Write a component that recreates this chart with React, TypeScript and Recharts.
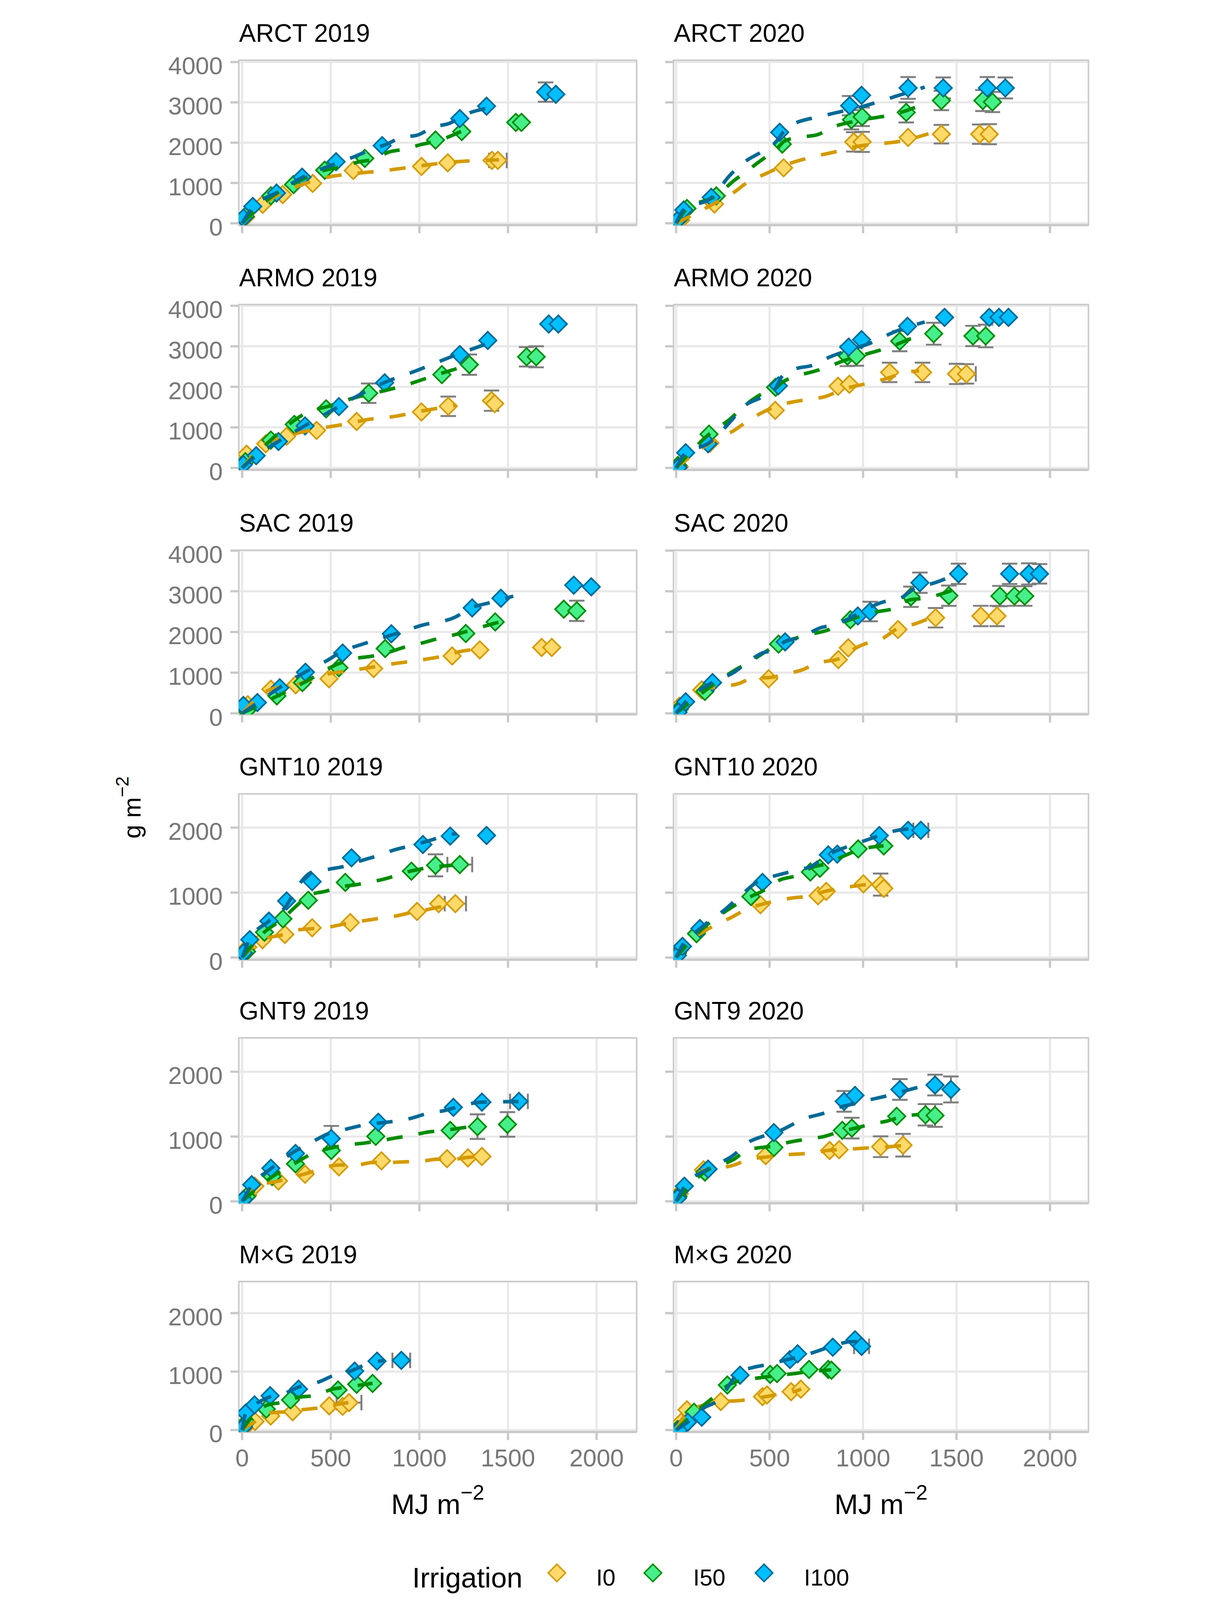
import React from 'react';
import { ScatterChart, Scatter, XAxis, YAxis, CartesianGrid, ErrorBar, ReferenceArea } from 'recharts';

// [x, y, y-error, x-error]
type P = [number, number, number?, number?];

const IRRIGATION = ['I0', 'I50', 'I100'];
const X_TICKS = [0, 500, 1000, 1500, 2000];
const Y_TICKS_TALL = [0, 1000, 2000, 3000, 4000];
const Y_TICKS_SHORT = [0, 1000, 2000];

// ---- ARCT ----
const ARCT19_I0: P[] = [[20, 150], [116, 470], [229, 712], [398, 988], [627, 1310], [1012, 1410], [1160, 1500], [1410, 1560], [1443, 1560, 0, 50]];
const ARCT19_I50: P[] = [[18, 170], [162, 680], [290, 960], [466, 1316], [692, 1610], [1091, 2065], [1239, 2275], [1544, 2503], [1576, 2503]];
const ARCT19_I100: P[] = [[7, 130], [60, 418], [194, 750], [338, 1143], [530, 1527], [790, 1928], [1228, 2598], [1379, 2906], [1712, 3255, 240], [1770, 3200]];
const ARCT19_I0_FIT: P[] = [[0, 0], [120, 470], [320, 930], [490, 1150], [625, 1228], [800, 1305], [990, 1415], [1160, 1510], [1350, 1560], [1450, 1575]];
const ARCT19_I50_FIT: P[] = [[0, 0], [160, 640], [300, 1000], [465, 1314], [560, 1400], [650, 1514], [740, 1590], [830, 1770], [925, 1843], [1010, 1954], [1100, 2042], [1240, 2290]];
const ARCT19_I100_FIT: P[] = [[0, 0], [60, 400], [195, 760], [340, 1140], [538, 1496], [627, 1642], [717, 1810], [810, 1954], [900, 2129], [991, 2190], [1078, 2386], [1171, 2482], [1250, 2680], [1389, 2860]];

const ARCT20_I0: P[] = [[24, 73], [205, 477], [575, 1375], [950, 2019, 240], [995, 2019, 250], [1241, 2129], [1419, 2210, 230], [1624, 2210, 240], [1675, 2210, 250]];
const ARCT20_I50: P[] = [[17, 110], [58, 367], [215, 679], [568, 1963], [938, 2569, 240], [995, 2642, 230], [1231, 2752, 250], [1419, 3046, 240], [1641, 3046, 260], [1692, 3009, 250]];
const ARCT20_I100: P[] = [[7, 73], [41, 330], [188, 642], [554, 2257], [928, 2918, 240], [992, 3175], [1241, 3358, 270], [1429, 3358, 260], [1665, 3358, 270], [1761, 3358, 260]];
const ARCT20_I0_FIT: P[] = [[0, 0], [200, 480], [310, 770], [380, 1010], [480, 1230], [560, 1400], [750, 1670], [840, 1760], [960, 1900], [1100, 1980], [1180, 2020], [1350, 2220]];
const ARCT20_I50_FIT: P[] = [[0, 0], [60, 370], [215, 680], [310, 1060], [380, 1300], [460, 1580], [530, 1800], [580, 2040], [650, 2130], [750, 2190], [840, 2390], [990, 2560], [1180, 2720], [1350, 3010]];
const ARCT20_I100_FIT: P[] = [[0, 0], [40, 330], [190, 640], [290, 1200], [360, 1500], [460, 1780], [530, 2000], [600, 2400], [800, 2680], [1000, 2900], [1140, 3100], [1330, 3380]];

// ---- ARMO ----
const ARMO19_I0: P[] = [[25, 338], [133, 595], [251, 778], [420, 925], [646, 1145], [1012, 1380], [1163, 1520, 240], [1407, 1659, 250], [1425, 1585]];
const ARMO19_I50: P[] = [[18, 154], [162, 686], [294, 1072], [474, 1457], [714, 1842, 240], [1127, 2301], [1282, 2547, 250], [1605, 2741, 240], [1659, 2741, 260]];
const ARMO19_I100: P[] = [[7, 81], [79, 301], [205, 650], [355, 1035], [546, 1512], [804, 2099], [1228, 2797], [1386, 3145], [1730, 3549], [1784, 3549]];
const ARMO19_I0_FIT: P[] = [[0, 0], [130, 590], [250, 780], [420, 960], [500, 1020], [620, 1110], [690, 1180], [860, 1270], [1010, 1400], [1210, 1550]];
const ARMO19_I50_FIT: P[] = [[0, 0], [160, 680], [310, 1220], [380, 1400], [470, 1500], [650, 1750], [740, 1840], [920, 2040], [1100, 2300], [1280, 2540]];
const ARMO19_I100_FIT: P[] = [[0, 0], [80, 300], [200, 640], [350, 1030], [540, 1500], [640, 1750], [800, 2100], [990, 2410], [1190, 2760], [1380, 3060]];

const ARMO20_I0: P[] = [[17, 26], [181, 613], [530, 1420], [866, 2014], [927, 2063], [1142, 2356, 240], [1318, 2356, 240], [1500, 2319, 250], [1553, 2319, 240, 50]];
const ARMO20_I50: P[] = [[10, 62], [176, 833], [532, 1989], [916, 2760, 250], [964, 2760, 240], [1196, 3127, 250], [1378, 3310, 270], [1588, 3255, 250], [1656, 3255, 280]];
const ARMO20_I100: P[] = [[10, 7], [51, 374], [171, 595], [547, 2026], [923, 2980], [992, 3164], [1238, 3494], [1436, 3714], [1675, 3714], [1727, 3714], [1778, 3714]];
const ARMO20_I0_FIT: P[] = [[0, 0], [180, 610], [310, 925], [380, 1145], [460, 1365], [530, 1510], [720, 1700], [790, 1750], [900, 1950], [1060, 2120], [1130, 2210], [1230, 2360], [1300, 2390]];
const ARMO20_I50_FIT: P[] = [[0, 0], [176, 830], [290, 1210], [360, 1510], [460, 1830], [530, 1950], [565, 2100], [630, 2250], [720, 2360], [800, 2470], [900, 2650], [1080, 2890], [1145, 2980], [1250, 3180], [1320, 3270]];
const ARMO20_I100_FIT: P[] = [[0, 0], [51, 370], [171, 600], [290, 1140], [360, 1510], [460, 1750], [530, 1950], [565, 2250], [630, 2430], [735, 2540], [800, 2690], [1080, 3160], [1145, 3310], [1250, 3490], [1330, 3600]];

// ---- SAC ----
const SAC19_I0: P[] = [[32, 211], [162, 593], [302, 702], [490, 850], [742, 1100], [1185, 1410], [1341, 1560], [1690, 1620], [1747, 1620]];
const SAC19_I50: P[] = [[25, 65], [196, 429], [340, 756], [546, 1120], [807, 1593], [1262, 1963], [1428, 2247], [1815, 2560], [1888, 2520, 250]];
const SAC19_I100: P[] = [[7, 193], [86, 265], [212, 629], [357, 1011], [567, 1483], [842, 1956], [1298, 2592], [1460, 2829], [1871, 3150], [1970, 3110]];
const SAC19_I0_FIT: P[] = [[0, 0], [160, 590], [300, 700], [510, 990], [580, 1030], [740, 1140], [870, 1230], [960, 1280], [1050, 1340], [1140, 1410], [1230, 1520], [1310, 1570]];
const SAC19_I50_FIT: P[] = [[0, 0], [200, 430], [350, 760], [550, 1230], [630, 1340], [740, 1410], [810, 1480], [920, 1630], [990, 1700], [1100, 1830], [1170, 1900], [1280, 2030], [1350, 2120], [1480, 2280]];
const SAC19_I100_FIT: P[] = [[0, 0], [90, 270], [210, 630], [350, 1000], [480, 1300], [580, 1560], [650, 1660], [940, 2060], [1010, 2160], [1200, 2360], [1300, 2610], [1380, 2700], [1530, 2880]];

const SAC20_I0: P[] = [[17, 175], [137, 575], [495, 850], [868, 1320], [921, 1610], [1187, 2060], [1388, 2350, 240], [1630, 2393, 250], [1717, 2393, 250]];
const SAC20_I50: P[] = [[17, 102], [154, 538], [548, 1702], [932, 2302], [1256, 2865, 250], [1459, 2892, 250], [1732, 2883, 250], [1810, 2883, 240], [1865, 2883, 240]];
const SAC20_I100: P[] = [[10, 29], [51, 284], [195, 756], [583, 1756], [972, 2393], [1038, 2502, 240], [1304, 3211, 250], [1511, 3429, 250], [1784, 3429, 250], [1887, 3429, 260], [1944, 3429, 240]];
const SAC20_I0_FIT: P[] = [[0, 0], [140, 570], [340, 740], [410, 865], [500, 880], [580, 960], [680, 1080], [750, 1230], [870, 1340], [920, 1500], [1030, 1740], [1090, 1810], [1200, 2120], [1270, 2190], [1380, 2390]];
const SAC20_I50_FIT: P[] = [[0, 0], [150, 540], [310, 1050], [380, 1230], [550, 1700], [735, 1960], [800, 2030], [930, 2300], [1080, 2500], [1160, 2570], [1250, 2790], [1330, 2830], [1480, 3030]];
const SAC20_I100_FIT: P[] = [[0, 0], [50, 280], [190, 750], [310, 1010], [380, 1250], [460, 1480], [530, 1560], [580, 1760], [670, 1870], [770, 2100], [840, 2170], [1110, 2740], [1200, 2830], [1280, 3080], [1370, 3190], [1500, 3420]];

// ---- GNT10 ----
const GNT10_19_I0: P[] = [[32, 160], [115, 275], [241, 355], [395, 458], [610, 538], [987, 710], [1109, 830], [1203, 830, 0, 60]];
const GNT10_19_I50: P[] = [[25, 92], [126, 389], [230, 596], [373, 882], [582, 1157], [955, 1329], [1091, 1420, 170], [1228, 1432, 0, 70]];
const GNT10_19_I100: P[] = [[7, 69], [43, 275], [151, 561], [251, 871], [395, 1168], [617, 1535], [1020, 1740], [1174, 1870], [1379, 1880]];
const GNT10_19_I0_FIT: P[] = [[0, 0], [110, 270], [240, 360], [300, 420], [420, 450], [490, 470], [600, 530], [670, 560], [770, 600], [850, 630], [950, 690], [1030, 730], [1210, 840]];
const GNT10_19_I50_FIT: P[] = [[0, 0], [125, 390], [230, 600], [300, 780], [380, 960], [470, 1020], [560, 1090], [640, 1120], [740, 1170], [830, 1230], [920, 1310], [1000, 1360], [1100, 1400], [1190, 1420]];
const GNT10_19_I100_FIT: P[] = [[0, 0], [40, 270], [150, 560], [250, 800], [310, 1080], [390, 1310], [490, 1360], [600, 1420], [670, 1490], [780, 1580], [850, 1650], [950, 1720], [1030, 1780], [1130, 1860], [1210, 1910]];

const GNT10_20_I0: P[] = [[17, 115], [451, 813], [759, 951], [803, 1019], [1002, 1134], [1094, 1123, 170], [1111, 1065]];
const GNT10_20_I50: P[] = [[7, 69], [109, 367], [400, 939], [718, 1317], [769, 1375], [974, 1672], [1111, 1718]];
const GNT10_20_I100: P[] = [[7, 34], [34, 172], [127, 447], [462, 1157], [814, 1581], [862, 1592], [1087, 1879], [1241, 1959], [1309, 1959, 0, 40]];
const GNT10_20_I0_FIT: P[] = [[0, 0], [20, 110], [160, 420], [310, 640], [380, 750], [460, 820], [530, 870], [630, 920], [700, 940], [800, 1020], [980, 1110], [1040, 1130]];
const GNT10_20_I50_FIT: P[] = [[0, 0], [110, 360], [290, 760], [400, 940], [460, 1020], [560, 1200], [630, 1250], [740, 1400], [800, 1440], [910, 1580], [970, 1650], [1110, 1720]];
const GNT10_20_I100_FIT: P[] = [[0, 0], [30, 170], [130, 450], [270, 760], [340, 940], [460, 1210], [530, 1260], [650, 1350], [720, 1400], [800, 1560], [970, 1760], [1040, 1830], [1170, 1950], [1250, 1980], [1300, 1975]];

// ---- GNT9 ----
const GNT9_19_I0: P[] = [[32, 96], [72, 234], [205, 315], [355, 418], [546, 533], [786, 625], [1156, 659], [1274, 670], [1353, 693]];
const GNT9_19_I50: P[] = [[25, 73], [169, 383], [301, 579], [503, 785], [754, 1003], [1174, 1095], [1328, 1153, 190], [1497, 1187, 190]];
const GNT9_19_I100: P[] = [[7, 28], [54, 257], [162, 510], [301, 739], [503, 969, 195], [768, 1221], [1192, 1451], [1353, 1531], [1562, 1543, 0, 50]];
const GNT9_19_I0_FIT: P[] = [[0, 0], [70, 230], [200, 310], [350, 420], [550, 560], [640, 560], [740, 600], [830, 600], [920, 610], [1000, 615], [1100, 650], [1190, 650], [1280, 680], [1390, 690]];
const GNT9_19_I50_FIT: P[] = [[0, 0], [170, 380], [300, 590], [390, 730], [510, 830], [590, 870], [690, 900], [780, 935], [870, 980], [950, 1015], [1050, 1070], [1140, 1095], [1230, 1130], [1320, 1165]];
const GNT9_19_I100_FIT: P[] = [[0, 0], [55, 250], [160, 500], [290, 760], [390, 910], [500, 1060], [580, 1110], [690, 1180], [780, 1210], [870, 1240], [950, 1280], [1050, 1360], [1140, 1400], [1230, 1470], [1350, 1530], [1560, 1540]];

const GNT9_20_I0: P[] = [[17, 119], [147, 487], [479, 705], [821, 785], [872, 797], [1094, 843, 160], [1214, 866, 175]];
const GNT9_20_I50: P[] = [[10, 73], [154, 452], [523, 831], [889, 1095], [940, 1130, 160], [1180, 1313], [1334, 1336, 165], [1385, 1325, 175]];
const GNT9_20_I100: P[] = [[7, 50], [44, 234], [171, 498], [523, 1061], [899, 1543, 160], [957, 1635], [1197, 1727, 160], [1385, 1795, 160], [1470, 1727, 200]];
const GNT9_20_I0_FIT: P[] = [[0, 0], [150, 480], [310, 560], [380, 640], [500, 690], [560, 715], [650, 730], [740, 750], [820, 790], [900, 800], [1000, 820], [1080, 830], [1210, 860]];
const GNT9_20_I50_FIT: P[] = [[0, 0], [150, 450], [310, 650], [380, 790], [530, 860], [600, 910], [700, 960], [790, 1000], [880, 1080], [960, 1130], [1040, 1190], [1130, 1240], [1210, 1310], [1300, 1340]];
const GNT9_20_I100_FIT: P[] = [[0, 0], [45, 230], [170, 500], [310, 720], [380, 900], [460, 1000], [530, 1060], [700, 1290], [790, 1360], [870, 1450], [960, 1510], [1040, 1570], [1130, 1630], [1230, 1710], [1320, 1780]];

// ---- M×G ----
const MXG19_I0: P[] = [[20, 60], [73, 147], [161, 240], [285, 313], [491, 414], [567, 406], [603, 469, 0, 70]];
const MXG19_I50: P[] = [[25, 135], [136, 358], [273, 515], [541, 685], [646, 783], [736, 797]];
const MXG19_I100: P[] = [[7, 51], [20, 290], [70, 430], [158, 588], [318, 700], [635, 1008], [761, 1178], [898, 1192, 0, 50]];
const MXG19_I0_FIT: P[] = [[0, 0], [70, 140], [161, 296], [249, 313], [342, 350], [433, 378], [520, 430], [600, 470]];
const MXG19_I50_FIT: P[] = [[0, 0], [30, 130], [136, 420], [231, 477], [318, 560], [411, 590], [510, 700], [580, 730], [736, 800]];
const MXG19_I100_FIT: P[] = [[0, 0], [20, 290], [70, 430], [150, 560], [240, 630], [350, 770], [420, 810], [530, 950], [600, 995], [710, 1135], [800, 1190]];

const MXG20_I0: P[] = [[27, 135], [58, 346], [239, 487], [462, 572], [486, 600], [615, 656], [667, 699]];
const MXG20_I50: P[] = [[7, 8], [96, 304], [274, 769], [503, 952], [540, 966], [711, 1037], [814, 1037], [831, 1023]];
const MXG20_I100: P[] = [[17, 8], [62, 135], [137, 220], [342, 938], [609, 1206], [650, 1304], [838, 1417], [957, 1544], [992, 1431, 0, 40]];
const MXG20_I0_FIT: P[] = [[0, 0], [60, 300], [150, 430], [240, 490], [325, 500], [460, 560], [560, 620], [620, 650], [670, 700]];
const MXG20_I50_FIT: P[] = [[0, 0], [100, 300], [200, 560], [280, 770], [300, 800], [460, 900], [520, 925], [630, 965], [700, 995], [830, 1030]];
const MXG20_I100_FIT: P[] = [[0, 0], [60, 130], [150, 380], [222, 500], [342, 1000], [410, 1070], [513, 1135], [564, 1180], [684, 1276], [752, 1346], [872, 1473], [940, 1515], [1000, 1500]];

const PANELS = [
  { title: 'ARCT 2019', row: 0, col: 0, pts: [ARCT19_I0, ARCT19_I50, ARCT19_I100], fits: [ARCT19_I0_FIT, ARCT19_I50_FIT, ARCT19_I100_FIT] },
  { title: 'ARCT 2020', row: 0, col: 1, pts: [ARCT20_I0, ARCT20_I50, ARCT20_I100], fits: [ARCT20_I0_FIT, ARCT20_I50_FIT, ARCT20_I100_FIT] },
  { title: 'ARMO 2019', row: 1, col: 0, pts: [ARMO19_I0, ARMO19_I50, ARMO19_I100], fits: [ARMO19_I0_FIT, ARMO19_I50_FIT, ARMO19_I100_FIT] },
  { title: 'ARMO 2020', row: 1, col: 1, pts: [ARMO20_I0, ARMO20_I50, ARMO20_I100], fits: [ARMO20_I0_FIT, ARMO20_I50_FIT, ARMO20_I100_FIT] },
  { title: 'SAC 2019', row: 2, col: 0, pts: [SAC19_I0, SAC19_I50, SAC19_I100], fits: [SAC19_I0_FIT, SAC19_I50_FIT, SAC19_I100_FIT] },
  { title: 'SAC 2020', row: 2, col: 1, pts: [SAC20_I0, SAC20_I50, SAC20_I100], fits: [SAC20_I0_FIT, SAC20_I50_FIT, SAC20_I100_FIT] },
  { title: 'GNT10 2019', row: 3, col: 0, pts: [GNT10_19_I0, GNT10_19_I50, GNT10_19_I100], fits: [GNT10_19_I0_FIT, GNT10_19_I50_FIT, GNT10_19_I100_FIT] },
  { title: 'GNT10 2020', row: 3, col: 1, pts: [GNT10_20_I0, GNT10_20_I50, GNT10_20_I100], fits: [GNT10_20_I0_FIT, GNT10_20_I50_FIT, GNT10_20_I100_FIT] },
  { title: 'GNT9 2019', row: 4, col: 0, pts: [GNT9_19_I0, GNT9_19_I50, GNT9_19_I100], fits: [GNT9_19_I0_FIT, GNT9_19_I50_FIT, GNT9_19_I100_FIT] },
  { title: 'GNT9 2020', row: 4, col: 1, pts: [GNT9_20_I0, GNT9_20_I50, GNT9_20_I100], fits: [GNT9_20_I0_FIT, GNT9_20_I50_FIT, GNT9_20_I100_FIT] },
  { title: 'M×G 2019', row: 5, col: 0, pts: [MXG19_I0, MXG19_I50, MXG19_I100], fits: [MXG19_I0_FIT, MXG19_I50_FIT, MXG19_I100_FIT] },
  { title: 'M×G 2020', row: 5, col: 1, pts: [MXG20_I0, MXG20_I50, MXG20_I100], fits: [MXG20_I0_FIT, MXG20_I50_FIT, MXG20_I100_FIT] },
];

// ---- styling / layout ----
const FONT = '"Liberation Sans", Arial, Helvetica, sans-serif';
const FILLS = ['#FFDA6A', '#47EF8B', '#00BFFF'];
const STROKES = ['#D49A00', '#008C00', '#006A96'];
const BORDER = '#C8C8C8';
const GRID = '#E8E8E8';
const TICK_TEXT = '#777777';
const ERR = '#7F7F7F';
const PAD_TOP = 60;
const PAD_RIGHT = 12;

// the figure is laid out at 3104x4964; the browser viewport is only 4096 tall,
// so the whole figure is scaled down uniformly to fit and centred
const FIG_W = 3104;
const FIG_H = 4964;
const VIEW_H = 4096;
const FIT = VIEW_H / FIG_H;

const COLS = [
  { plotLeft: 412.7, plotRight: 1647.6, xDomain: [-19, 2226], axisW: 412.7 },
  { plotLeft: 1762, plotRight: 3050, xDomain: [-14, 2206], axisW: 60 },
];
const ROWS = [
  { top: 186.7, bottom: 698.3, yDomain: [-48, 4045], ticks: Y_TICKS_TALL },
  { top: 944.9, bottom: 1457.6, yDomain: [-48, 4029], ticks: Y_TICKS_TALL },
  { top: 1706.7, bottom: 2216, yDomain: [-25, 4010], ticks: Y_TICKS_TALL },
  { top: 2463, bottom: 2977.6, yDomain: [-34, 2520], ticks: Y_TICKS_SHORT },
  { top: 3219.8, bottom: 3733, yDomain: [-30, 2523], ticks: Y_TICKS_SHORT },
  { top: 3976, bottom: 4442.7, yDomain: [-33, 2540], ticks: Y_TICKS_SHORT },
];

const toRows = (arr: P[]) => arr.map(([x, y]) => ({ x, y }));
const withYErr = (arr: P[]) => arr.filter((p) => (p[2] || 0) > 0).map(([x, y, e]) => ({ x, y, e }));
const withXErr = (arr: P[]) => arr.filter((p) => (p[3] || 0) > 0).map(([x, y, , e]) => ({ x, y, e }));

const Empty = () => <g />;

const diamond = (i: number) => (props: any) => {
  const { cx, cy } = props;
  if (cx == null || cy == null) return <g />;
  const r = 27;
  return (
    <path
      d={`M${cx},${cy - r}L${cx + r},${cy}L${cx},${cy + r}L${cx - r},${cy}Z`}
      fill={FILLS[i]}
      stroke={STROKES[i]}
      strokeWidth={5}
    />
  );
};

const YLabel = (props: any) => {
  const { x, y, payload } = props;
  return (
    <text x={x} y={y + 38} textAnchor="end" fontSize={76} fill={TICK_TEXT} fontFamily={FONT}>
      {payload.value}
    </text>
  );
};

const XLabel = (props: any) => {
  const { x, y, payload } = props;
  return (
    <text x={x} y={y + 82} textAnchor="middle" fontSize={76} fill={TICK_TEXT} fontFamily={FONT}>
      {payload.value}
    </text>
  );
};

function Panel({ p }: { p: (typeof PANELS)[number] }) {
  const col = COLS[p.col];
  const row = ROWS[p.row];
  const bottomRow = p.row === ROWS.length - 1;
  const plotW = col.plotRight - col.plotLeft;
  const plotH = row.bottom - row.top;
  const xAxisH = bottomRow ? 150 : 64;
  const width = col.axisW + plotW + PAD_RIGHT;
  const height = PAD_TOP + plotH + xAxisH;

  return (
    <div style={{ position: 'absolute', left: col.plotLeft - col.axisW, top: row.top - PAD_TOP }}>
      <ScatterChart width={width} height={height} margin={{ top: PAD_TOP, right: PAD_RIGHT, bottom: 0, left: 0 }}>
        <CartesianGrid stroke={GRID} strokeWidth={6.5} />
        <XAxis
          type="number"
          dataKey="x"
          domain={col.xDomain}
          ticks={X_TICKS}
          interval={0}
          allowDataOverflow
          height={xAxisH}
          tickSize={25}
          tickMargin={0}
          axisLine={{ stroke: BORDER, strokeWidth: 7 }}
          tickLine={{ stroke: BORDER, strokeWidth: 7 }}
          tick={bottomRow ? XLabel : Empty}
        />
        <YAxis
          type="number"
          dataKey="y"
          domain={row.yDomain}
          ticks={row.ticks}
          interval={0}
          allowDataOverflow
          width={col.axisW}
          tickSize={26}
          tickMargin={24}
          axisLine={false}
          tickLine={{ stroke: BORDER, strokeWidth: 7 }}
          tick={p.col === 0 ? YLabel : Empty}
        />
        {p.pts.map((s, i) => (
          <Scatter key={`ey${i}`} data={withYErr(s)} shape={Empty} isAnimationActive={false}>
            <ErrorBar dataKey="e" direction="y" width={24} stroke={ERR} strokeWidth={6} />
          </Scatter>
        ))}
        {p.pts.map((s, i) => (
          <Scatter key={`ex${i}`} data={withXErr(s)} shape={Empty} isAnimationActive={false}>
            <ErrorBar dataKey="e" direction="x" width={24} stroke={ERR} strokeWidth={6} />
          </Scatter>
        ))}
        {p.pts.map((s, i) => (
          <Scatter key={`pt${i}`} name={IRRIGATION[i]} data={toRows(s)} shape={diamond(i)} isAnimationActive={false} />
        ))}
        {p.fits.map((s, i) => (
          <Scatter
            key={`fit${i}`}
            data={toRows(s)}
            fill={STROKES[i]}
            shape={Empty}
            line={{ stroke: STROKES[i], strokeWidth: 11, strokeDasharray: '50 50' }}
            lineType="joint"
            lineJointType="monotoneX"
            isAnimationActive={false}
          />
        ))}
        <ReferenceArea
          x1={col.xDomain[0]}
          x2={col.xDomain[1]}
          y1={row.yDomain[0]}
          y2={row.yDomain[1]}
          fill="none"
          fillOpacity={0}
          stroke={BORDER}
          strokeWidth={3.5}
          ifOverflow="visible"
        />
      </ScatterChart>
    </div>
  );
}

const LEGEND_KEYS = [1400, 1698, 2043];
const LEGEND_TEXT_X = [1522, 1823, 2167];

export default function App() {
  return (
    <div style={{ position: 'relative', width: FIG_W, height: VIEW_H, background: '#fff', overflow: 'hidden' }}>
      <style>{'body{margin:0}'}</style>
      <div
        style={{
          position: 'absolute',
          left: (FIG_W - FIG_W * FIT) / 2,
          top: 0,
          width: FIG_W,
          height: FIG_H,
          transform: `scale(${FIT})`,
          transformOrigin: '0 0',
          fontFamily: FONT,
        }}
      >
        <svg width={FIG_W} height={FIG_H} style={{ position: 'absolute', left: 0, top: 0 }}>
          {PANELS.map((p) => (
            <text key={p.title} x={COLS[p.col].plotLeft + 1} y={ROWS[p.row].top - 57} fontSize={78} fill="#000" fontFamily={FONT}>
              {p.title}
            </text>
          ))}
          {COLS.map((c, i) => (
            <text key={i} x={(c.plotLeft + c.plotRight) / 2} y={4697} textAnchor="middle" fontSize={88} fill="#000" fontFamily={FONT}>
              MJ m<tspan dy={-44} fontSize={65}>−2</tspan>
            </text>
          ))}
          <text x={108} y={2505} transform="rotate(-90, 108, 2505)" textAnchor="middle" fontSize={77} fill="#000" fontFamily={FONT}>
            g m<tspan dy={-38} fontSize={57}>−2</tspan>
          </text>
          <text x={951} y={4925} fontSize={88} fill="#000" fontFamily={FONT}>Irrigation</text>
          {IRRIGATION.map((name, i) => (
            <g key={name}>
              <path
                d={`M${LEGEND_KEYS[i]},${4880 - 27}L${LEGEND_KEYS[i] + 27},4880L${LEGEND_KEYS[i]},${4880 + 27}L${LEGEND_KEYS[i] - 27},4880Z`}
                fill={FILLS[i]}
                stroke={STROKES[i]}
                strokeWidth={4.5}
              />
              <text x={LEGEND_TEXT_X[i]} y={4919} fontSize={72} fill="#000" fontFamily={FONT}>{name}</text>
            </g>
          ))}
        </svg>
        {PANELS.map((p) => (
          <Panel key={p.title} p={p} />
        ))}
      </div>
    </div>
  );
}
